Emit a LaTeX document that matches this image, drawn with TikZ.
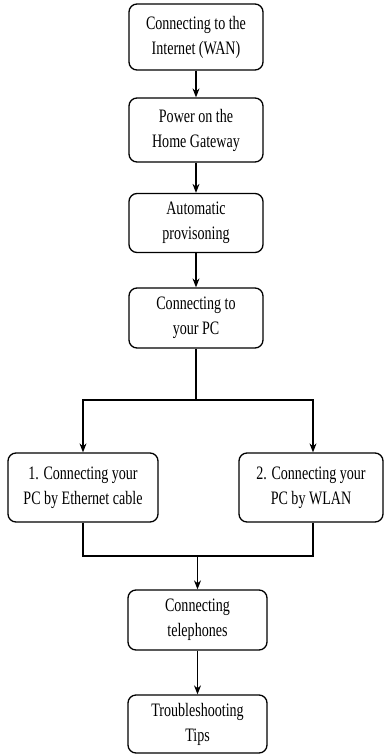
\documentclass[tikz,border=0pt]{standalone}
\usepackage{fontspec}
\setmainfont{Liberation Serif}[FakeStretch=0.74]
\usepackage{tikz}
\usetikzlibrary{arrows.meta}

\tikzset{
  stepbox/.style={draw, line width=1.3pt, rounded corners=8pt, align=center,
    inner sep=0pt, font=\fontsize{19}{25}\selectfont},
  flow/.style={line width=1.1pt},
  arr/.style={flow, -{Stealth[length=9pt,width=7pt]}}
}

\begin{document}
\begin{tikzpicture}[x=1pt,y=-1pt]
    \useasboundingbox (0,0) rectangle (384,755);
    \node[stepbox, minimum width=134pt, minimum height=66pt] (wan) at (196, 37) {Connecting to the\\Internet (WAN)};
    \node[stepbox, minimum width=134pt, minimum height=64pt] (power) at (196, 130) {Power on the\\Home Gateway};
    \node[stepbox, minimum width=134pt, minimum height=59pt] (auto) at (196, 223) {Automatic\\provisoning};
    \node[stepbox, minimum width=134pt, minimum height=60pt] (pc) at (196, 318) {Connecting to\\your PC};
    \node[stepbox, minimum width=150pt, minimum height=69pt] (eth) at (83, 487.5) {1. Connecting your\\PC by Ethernet cable};
    \node[stepbox, minimum width=144pt, minimum height=69pt] (wlan) at (311, 487.5) {2. Connecting your\\PC by WLAN};
    \node[stepbox, minimum width=139pt, minimum height=60pt] (tel) at (197.5, 620) {Connecting\\telephones};
    \node[stepbox, minimum width=139pt, minimum height=58pt] (tips) at (197.5, 724) {Troubleshooting\\Tips};
    \coordinate (split) at (196, 400);
    \coordinate (merge) at (197.5, 556);
    \draw [arr] (wan) -- (power);
    \draw [arr] (power) -- (auto);
    \draw [arr] (auto) -- (pc);
    \draw [flow] (pc) -- (split);
    \draw [arr] (split) -| (eth);
    \draw [arr] (split) -| ([xshift=2pt]wlan.north);
    \draw [flow] (eth) |- (merge);
    \draw [flow] ([xshift=2pt]wlan.south) |- (merge);
    \draw [arr] (merge) -- (tel);
    \draw [arr] (tel) -- (tips);
  \end{tikzpicture}
\end{document}
